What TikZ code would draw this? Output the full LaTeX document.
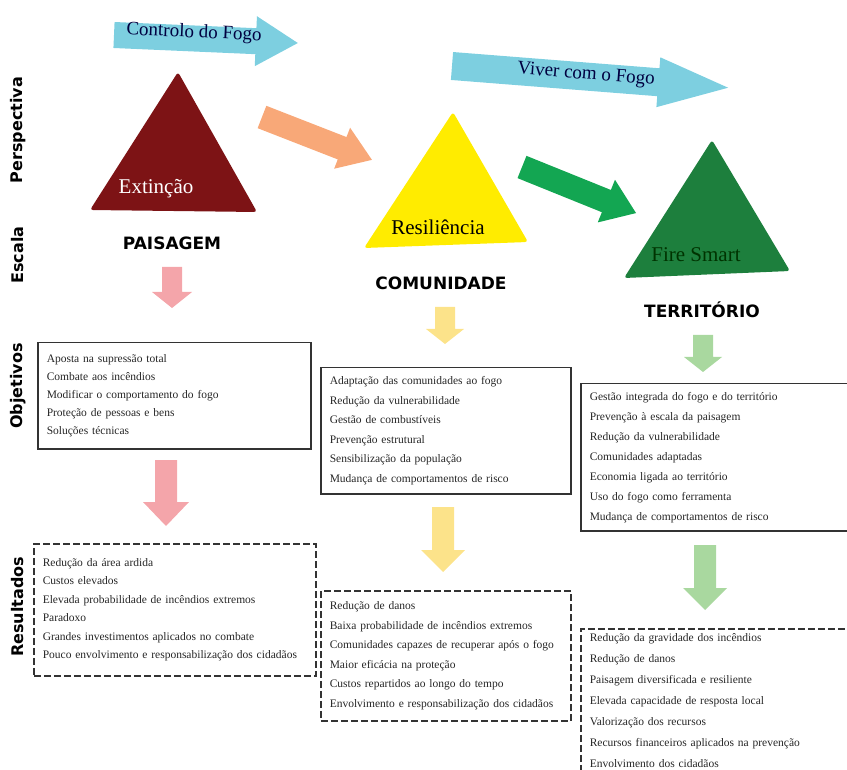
\documentclass[tikz,border=0pt]{standalone}
\usepackage{fontspec}
\setmainfont{Liberation Serif}
\newfontfamily\labelfont{DejaVu Sans}
\usetikzlibrary{positioning}

\definecolor{extred}{HTML}{7D1315}
\definecolor{resyellow}{HTML}{FFEC00}
\definecolor{smartgreen}{HTML}{1D7F3D}
\definecolor{fogocyan}{HTML}{7DCFE0}
\definecolor{setaorange}{HTML}{F8A878}
\definecolor{setagreen}{HTML}{13A652}
\definecolor{descpink}{HTML}{F4A5AA}
\definecolor{descyellow}{HTML}{FCE38A}
\definecolor{descgreen}{HTML}{A9D89F}

% block arrow: tail, angle, length, half body, half head, head length, colour
\newcommand{\blockarrow}[7]{%
  \begin{scope}[shift={(#1)}, rotate=#2]
    \fill [#7] (0,-#4) -- (#3-#6,-#4) -- (#3-#6,-#5) -- (#3,0)
      -- (#3-#6,#5) -- (#3-#6,#4) -- (0,#4) -- cycle;
  \end{scope}}

\tikzset{
  lado/.style={font=\labelfont\bfseries\fontsize{16}{16}\selectfont, rotate=90},
  escala/.style={font=\labelfont\bfseries\fontsize{17}{17}\selectfont},
  tritext/.style={font=\fontsize{21}{21}\selectfont},
  fogotext/.style={font=\fontsize{19}{19}\selectfont, text=black!75!blue},
  caixa/.style={draw=black!80, line width=1.5pt, align=left, anchor=north west,
    inner xsep=9pt, text=black!85, font=\fontsize{11.5}{#1}\selectfont},
  caixares/.style={caixa=#1, dash pattern=on 7pt off 3pt},
}

\begin{document}
\begin{tikzpicture}[x=1pt,y=-1pt]
    \useasboundingbox (0,0) rectangle (847,770);

    % side labels
    \node [lado] (persp) at (18,130) {Perspectiva};
    \node [lado] (esc) at (18,255) {Escala};
    \node [lado] (obj) at (18,386) {Objetivos};
    \node [lado] (res) at (18,607) {Resultados};

    % top arrows
    \coordinate (controlo) at (114,35);
    \blockarrow{controlo}{-2.5}{184}{13}{25}{42}{fogocyan}
    \node [fogotext, rotate=-2.5] (controlotxt) at (194,33) {Controlo do Fogo};
    \coordinate (viver) at (452,66);
    \blockarrow{viver}{-4.5}{277}{14}{25}{70}{fogocyan}
    \node [fogotext, rotate=-4.5] (vivertxt) at (586,75) {Viver com o Fogo};

    % triangles
    \fill [extred, rounded corners=3pt] (178,72) -- (257,212) -- (90,210) -- cycle;
    \node [tritext, text=white] (ext) at (156,189) {Extinção};
    \fill [resyellow, rounded corners=3pt] (453,112) -- (528,242) -- (364,248) -- cycle;
    \node [tritext] (resil) at (438,227) {Resiliência};
    \fill [smartgreen, rounded corners=3pt] (712,140) -- (790,271) -- (624,278) -- cycle;
    \node [tritext, text=black!80!green] (smart) at (696,255) {Fire Smart};

    % transitions
    \coordinate (ora) at (262,117);
    \blockarrow{ora}{-21.3}{118}{12}{22}{32}{setaorange}
    \coordinate (gre) at (522,167);
    \blockarrow{gre}{-22}{123}{12}{23}{32}{setagreen}

    % scales
    \node [escala] (paisagem) at (172,243) {PAISAGEM};
    \node [escala] (comunidade) at (441,283) {COMUNIDADE};
    \node [escala] (territorio) at (702,310) {TERRITÓRIO};

    % down arrows
    \coordinate (p1) at (172,267);
    \blockarrow{p1}{-90}{41}{10}{20}{16}{descpink}
    \coordinate (y1) at (445,307);
    \blockarrow{y1}{-90}{37}{10}{19}{15}{descyellow}
    \coordinate (g1) at (703,335);
    \blockarrow{g1}{-90}{37}{10}{19}{15}{descgreen}
    \coordinate (p2) at (166,460);
    \blockarrow{p2}{-90}{66}{11}{23}{24}{descpink}
    \coordinate (y2) at (443,507);
    \blockarrow{y2}{-90}{65}{11}{22}{22}{descyellow}
    \coordinate (g2) at (705,545);
    \blockarrow{g2}{-90}{65}{11}{22}{22}{descgreen}

    % objetivos
    \node [caixa=18, text width=255pt, minimum height=106pt] (obj1) at (37,342)
      {Aposta na supressão total\\Combate aos incêndios\\Modificar o comportamento do fogo\\Proteção de pessoas e bens\\Soluções técnicas};
    \node [caixa=19.6, text width=232pt, minimum height=126pt] (obj2) at (320,367)
      {Adaptação das comunidades ao fogo\\Redução da vulnerabilidade\\Gestão de combustíveis\\Prevenção estrutural\\Sensibilização da população\\Mudança de comportamentos de risco};
    \node [caixa=20, text width=254pt, minimum height=147pt] (obj3) at (580,383)
      {Gestão integrada do fogo e do território\\Prevenção à escala da paisagem\\Redução da vulnerabilidade\\Comunidades adaptadas\\Economia ligada ao território\\Uso do fogo como ferramenta\\Mudança de comportamentos de risco};

    % resultados
    \node [caixares=18.4, text width=264pt, minimum height=132pt] (res1) at (33,543)
      {Redução da área ardida\\Custos elevados\\Elevada probabilidade de incêndios extremos\\Paradoxo\\Grandes investimentos aplicados no combate\\Pouco envolvimento e responsabilização dos cidadãos};
    \node [caixares=19.6, text width=232pt, minimum height=130pt] (res2) at (320,590)
      {Redução de danos\\Baixa probabilidade de incêndios extremos\\Comunidades capazes de recuperar após o fogo\\Maior eficácia na proteção\\Custos repartidos ao longo do tempo\\Envolvimento e responsabilização dos cidadãos};
    \node [caixares=21, text width=257pt, minimum height=144pt] (res3) at (580,628)
      {Redução da gravidade dos incêndios\\Redução de danos\\Paisagem diversificada e resiliente\\Elevada capacidade de resposta local\\Valorização dos recursos\\Recursos financeiros aplicados na prevenção\\Envolvimento dos cidadãos};
\end{tikzpicture}
\end{document}
